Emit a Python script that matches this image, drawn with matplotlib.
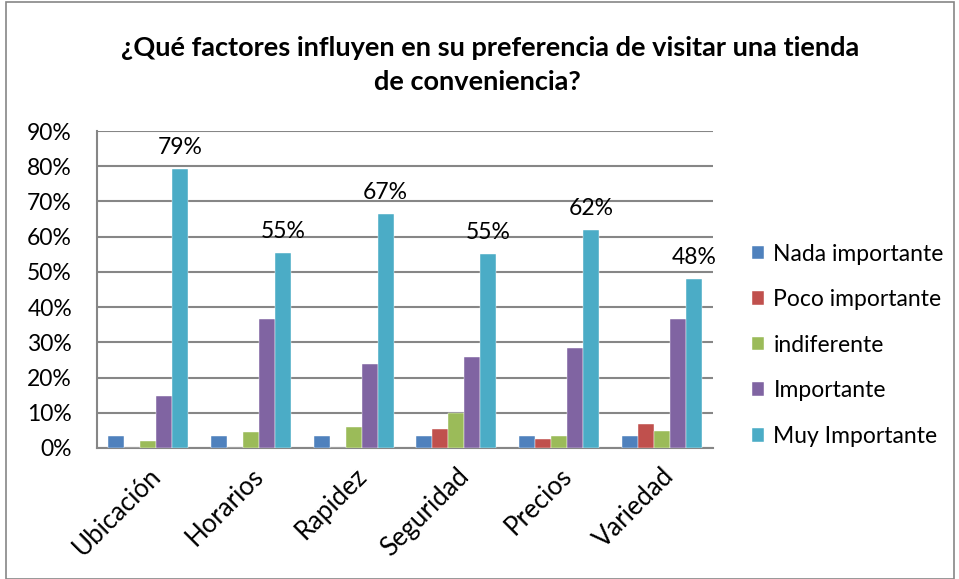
import matplotlib
matplotlib.use("Agg")
import matplotlib.pyplot as plt
import numpy as np
from matplotlib.patches import Rectangle

categories = ["Ubicación", "Horarios", "Rapidez", "Seguridad", "Precios", "Variedad"]
series_names = ["Nada importante", "Poco importante", "indiferente", "Importante", "Muy Importante"]
nada = [3.3, 3.3, 3.3, 3.3, 3.3, 3.3]
poco = [0.0, 0.0, 0.0, 5.3, 2.6, 6.9]
indif = [2.0, 4.5, 5.9, 10.0, 3.3, 4.7]
importante = [14.9, 36.5, 23.9, 25.7, 28.5, 36.5]
muy = [79.2, 55.4, 66.5, 55.2, 61.9, 48.1]
muy_labels = ["79%", "55%", "67%", "55%", "62%", "48%"]
yticks = [0, 10, 20, 30, 40, 50, 60, 70, 80, 90]

colors = ["#4F81BD", "#C0504D", "#9BBB59", "#8064A2", "#4BACC6"]

plt.rcParams['font.family'] = ['Lato', 'DejaVu Sans']

W, H = 959, 579
fig = plt.figure(figsize=(W / 100, H / 100), dpi=100)
ax = fig.add_axes([97 / W, 1 - 448 / H, (713 - 97) / W, (448 - 131) / H])

data = [nada, poco, indif, importante, muy]
x = np.arange(len(categories))
bw = 0.156
for i, (vals, name, c) in enumerate(zip(data, series_names, colors)):
    pos = x + (i - 2) * bw
    bars = ax.bar(pos, vals, width=bw, color=c, label=name, zorder=3,
                  edgecolor="white", linewidth=0.3)
    if i == 4:
        for b, lab in zip(bars, muy_labels):
            ax.text(b.get_x() + b.get_width() / 2, b.get_height() + 3.0, lab,
                    ha="center", va="bottom", fontsize=16.5, color="black")

ax.set_xlim(-0.5, len(categories) - 0.5)
ax.set_ylim(0, 90)
ax.set_yticks(yticks)
ax.set_yticklabels([f"{v}%" for v in yticks], fontsize=16.5)
ax.set_xticks(x)
ax.set_xticklabels(categories, rotation=45, ha="right", rotation_mode="anchor", fontsize=18.5)
ax.tick_params(axis="y", length=0, pad=18)
ax.tick_params(axis="x", length=0, pad=11)
ax.grid(axis="y", color="#868686", linewidth=1.5, zorder=0)
for s in ["top", "right"]:
    ax.spines[s].set_visible(False)
ax.spines["left"].set_color("#868686")
ax.spines["left"].set_linewidth(1.5)
ax.spines["bottom"].set_color("#868686")
ax.spines["bottom"].set_linewidth(1.5)

leg = fig.legend(loc="upper left", bbox_to_anchor=(731 / W, 1 - 223 / H), frameon=False,
                 fontsize=16.5, handlelength=0.55, handleheight=0.55, handletextpad=0.4,
                 labelspacing=1.07)

fig.text(0.511, 1 - 48 / H, "¿Qué factores influyen en su preferencia de visitar una tienda",
         ha="center", va="center", fontsize=19.5, fontweight="bold")
fig.text(0.498, 1 - 82 / H, "de conveniencia?",
         ha="center", va="center", fontsize=19.5, fontweight="bold")

fig.patches.append(Rectangle((6 / W, 0), (954 - 6) / W, 1 - 2 / H, transform=fig.transFigure,
                             fill=False, edgecolor="#868686", linewidth=1.2))

fig.savefig("out.png", dpi=100)
